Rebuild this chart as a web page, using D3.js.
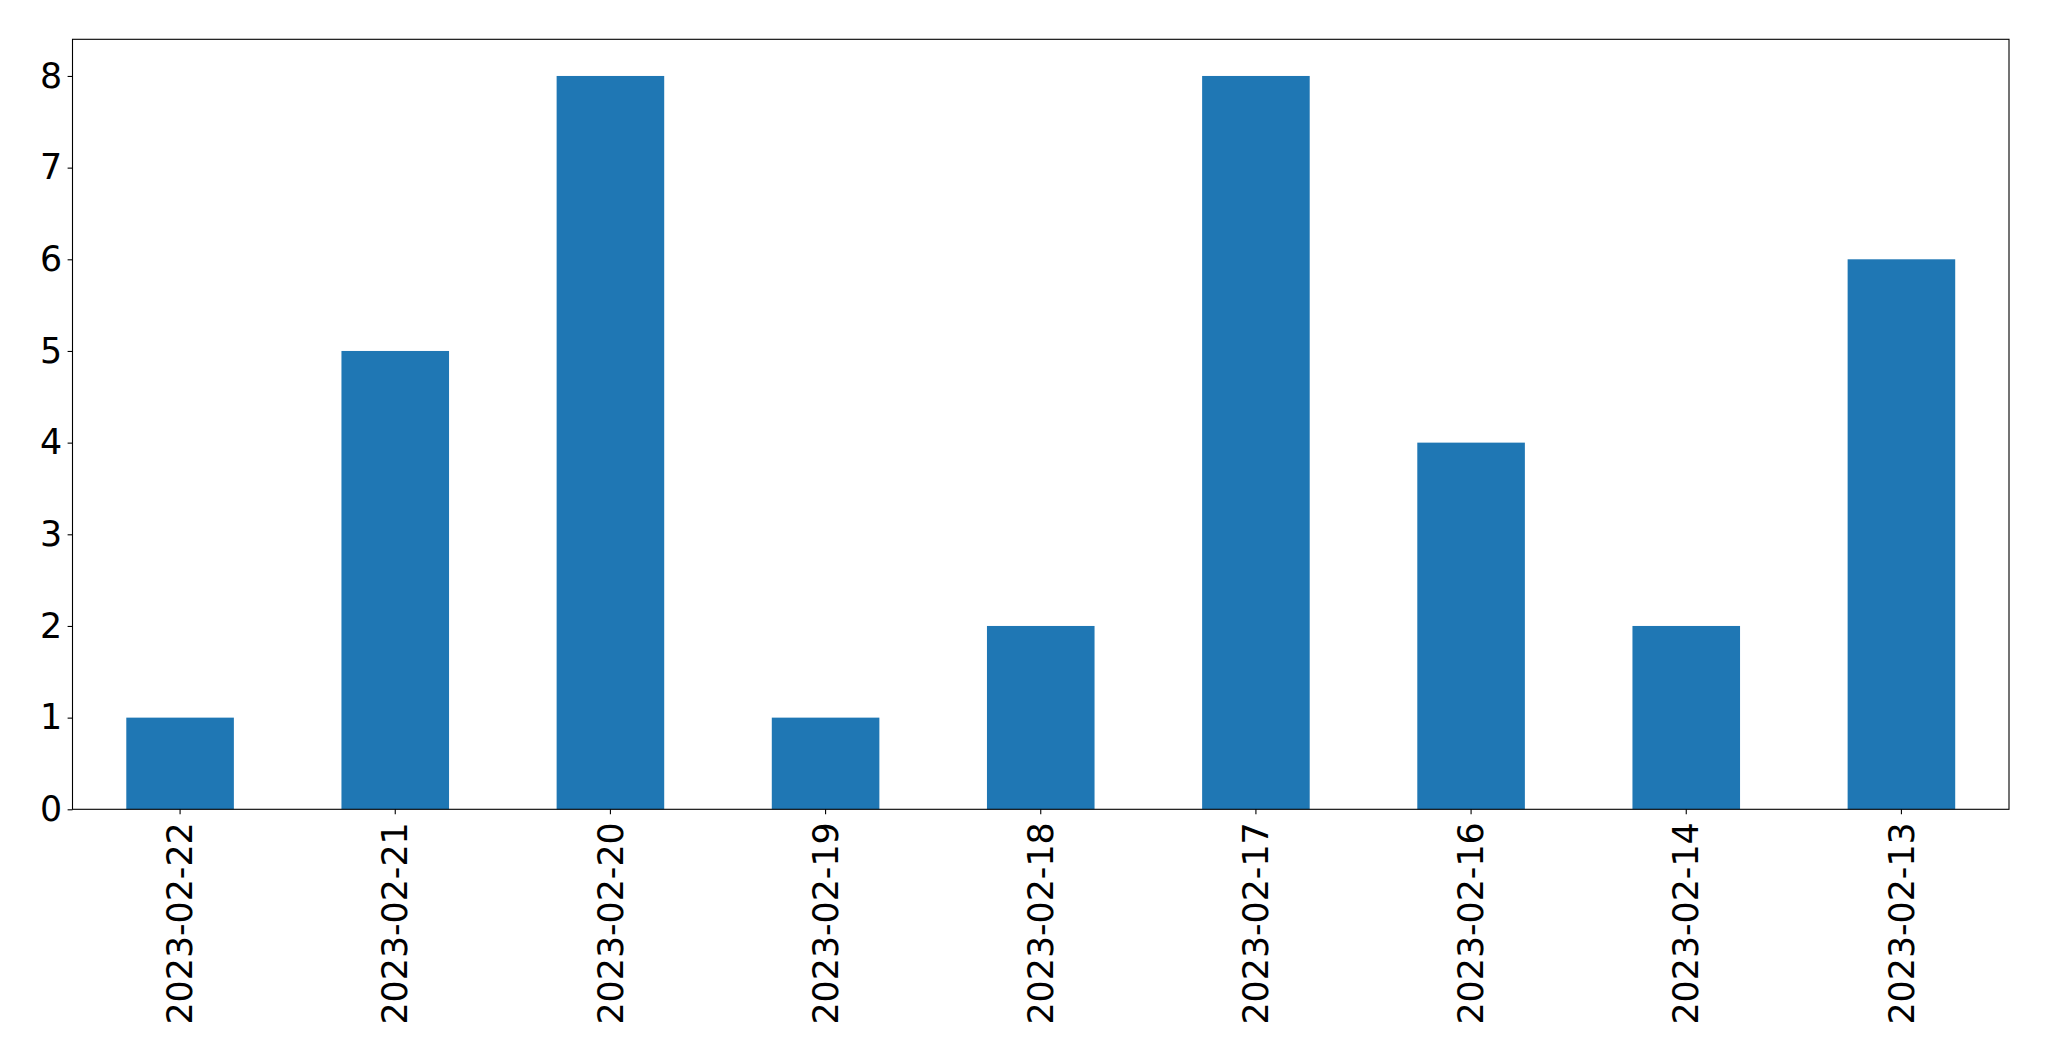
<!DOCTYPE html>
<html><head><meta charset="utf-8">
<script src="https://cdn.jsdelivr.net/npm/d3@7"></script>
<style>body{margin:0;background:#fff}svg{display:block}</style>
</head><body>
<script>
const categories = ["2023-02-22","2023-02-21","2023-02-20","2023-02-19","2023-02-18","2023-02-17","2023-02-16","2023-02-14","2023-02-13"];
const values = [1,5,8,1,2,8,4,2,6];
const yTicks = [0,1,2,3,4,5,6,7,8];

const W = 2049, H = 1061;
const L = 72.5, R = 2009, T = 39.3, B = 809.3;
const svg = d3.select("body").append("svg").attr("width", W).attr("height", H);

const x = d3.scaleBand().domain(categories).range([L, R]).paddingInner(0.5).paddingOuter(0.25);
const y = d3.scaleLinear().domain([0, 8.4]).range([B, T]);

svg.append("g").selectAll("rect").data(values).join("rect")
  .attr("x", (d,i) => x(categories[i]))
  .attr("width", x.bandwidth())
  .attr("y", d => y(d))
  .attr("height", d => y(0) - y(d))
  .attr("fill", "#1f77b4");

const font = "'DejaVu Sans', sans-serif";
const fs = 34.8;

// y axis
const ya = svg.append("g").attr("transform", `translate(${L},0)`)
  .call(d3.axisLeft(y).tickValues(yTicks).tickSize(4.9).tickPadding(5.5).tickFormat(d3.format("d")));
ya.select(".domain").remove();
ya.selectAll("line").attr("stroke", "#000").attr("stroke-width", 1.1);
ya.selectAll("text").attr("font-family", font).attr("font-size", fs).attr("fill", "#000");

// x axis
const xa = svg.append("g").attr("transform", `translate(0,${B})`)
  .call(d3.axisBottom(x).tickSize(4.9).tickPadding(0));
xa.select(".domain").remove();
xa.selectAll("line").attr("stroke", "#000").attr("stroke-width", 1.1);
xa.selectAll("text")
  .attr("font-family", font).attr("font-size", fs).attr("fill", "#000")
  .attr("text-anchor", "end")
  .attr("y", 0).attr("dy", "0.35em")
  .attr("transform", "translate(0,13) rotate(-90)");

// frame
svg.append("rect").attr("x", L).attr("y", T).attr("width", R - L).attr("height", B - T)
  .attr("fill", "none").attr("stroke", "#000").attr("stroke-width", 1.1);
</script>
</body></html>
